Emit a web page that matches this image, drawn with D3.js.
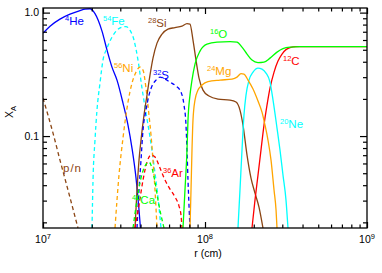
<!DOCTYPE html>
<html>
<head>
<meta charset="utf-8">
<script src="https://cdn.jsdelivr.net/npm/d3@7"></script>
<style>
body{margin:0;background:#fff;}
svg{display:block;font-family:"Liberation Sans",Arial,sans-serif;}
</style>
</head>
<body>
<svg id="chart" width="382" height="273"></svg>
<script>
// mass fractions X_A against radius, [r (cm), X]
const pn = [[1.0e7,0.203],[1.153e7,0.1057],[1.273e7,0.0639],[1.427e7,0.0365],[1.644e7,0.018]];
const he4 = [[1.0e7,0.682],[1.105e7,0.777],[1.273e7,0.886],[1.468e7,0.972],[1.692e7,1.038],[1.816e7,1.067],[1.95e7,1.075],
  [2.094e7,0.981],[2.313e7,0.708],[2.484e7,0.497],[2.666e7,0.362],[2.863e7,0.284],[3.117e7,0.185],[3.347e7,0.1228],
  [3.542e7,0.080],[3.751e7,0.0457],[3.914e7,0.0252],[4.027e7,0.0158]];
const fe54 = [[2.007e7,0.018],[2.036e7,0.044],[2.094e7,0.0928],[2.154e7,0.1623],[2.248e7,0.2686],[2.346e7,0.4125],
  [2.484e7,0.516],[2.666e7,0.633],[2.863e7,0.721],[3.074e7,0.763],[3.253e7,0.770],[3.443e7,0.721],[3.645e7,0.599],
  [3.858e7,0.4125],[4.083e7,0.2447],[4.323e7,0.1535],[4.576e7,0.0981],[4.842e7,0.0582],[5.128e7,0.0315],[5.351e7,0.018]];
const ni56 = [[2.783e7,0.018],[2.863e7,0.0303],[2.945e7,0.0483],[3.03e7,0.0702],[3.117e7,0.0963],[3.207e7,0.1299],
  [3.347e7,0.1885],[3.543e7,0.2686],[3.751e7,0.3298],[3.97e7,0.362],[4.143e7,0.342],[4.323e7,0.2447],[4.511e7,0.1479],
  [4.642e7,0.1019],[4.775e7,0.0639],[4.914e7,0.0365],[5.055e7,0.018]];
const si28 = [[3.698e7,0.018],[3.804e7,0.0365],[3.914e7,0.0639],[4.027e7,0.0928],[4.202e7,0.1479],[4.385e7,0.2148],
  [4.576e7,0.3119],[4.775e7,0.428],[5.055e7,0.566],[5.428e7,0.670],[5.909e7,0.735],[6.528e7,0.756],[7.211e7,0.777],
  [7.742e7,0.815],[8.078e7,0.807],[8.431e7,0.599],[8.799e7,0.4125],[9.183e7,0.2948],[9.721e7,0.2357],[1.0585e8,0.2109],
  [1.2027e8,0.1994],[1.4269e8,0.1957],[1.554e8,0.1885],[1.644e8,0.1623],[1.716e8,0.1228],[1.817e8,0.0702],
  [1.923e8,0.0457],[2.035e8,0.0345],[2.154e8,0.0266],[2.28e8,0.018]];
const s32 = [[3.804e7,0.018],[3.914e7,0.0365],[4.027e7,0.0639],[4.143e7,0.1118],[4.323e7,0.1623],[4.511e7,0.2148],
  [4.707e7,0.2541],[4.983e7,0.284],[5.275e7,0.3003],[5.664e7,0.2893],[6.081e7,0.2736],[6.622e7,0.2541],[7.109e7,0.2272],
  [7.419e7,0.1782],[7.632e7,0.1228],[7.742e7,0.077],[7.853e7,0.044],[7.964e7,0.0276],[8.078e7,0.018]];
const ar36 = [[3.698e7,0.018],[3.914e7,0.0276],[4.143e7,0.044],[4.385e7,0.0616],[4.642e7,0.0702],[4.914e7,0.0676],
  [5.275e7,0.0551],[5.664e7,0.044],[6.081e7,0.0372],[6.528e7,0.0321],[6.909e7,0.0271],[7.109e7,0.0229],[7.211e7,0.018]];
const ca40 = [[3.594e7,0.018],[3.804e7,0.0303],[4.027e7,0.0457],[4.264e7,0.0572],[4.511e7,0.0616],[4.707e7,0.0551],
  [4.914e7,0.0424],[5.128e7,0.0303],[5.351e7,0.0229],[5.585e7,0.018]];
const o16 = [[7.314e7,0.018],[7.523e7,0.0365],[7.742e7,0.077],[7.853e7,0.1348],[8.078e7,0.2148],[8.312e7,0.284],
  [8.674e7,0.3828],[9.314e7,0.488],[1.0287e8,0.556],[1.186e8,0.577],[1.427e8,0.582],[1.576e8,0.577],[1.692e8,0.5255],
  [1.817e8,0.4613],[1.95e8,0.4125],[2.124e8,0.3937],[2.313e8,0.3974],[2.519e8,0.428],[2.783e8,0.4787],[3.03e8,0.511],
  [3.347e8,0.5255],[3.858e8,0.5305],[1.0e9,0.5305]];
const mg24 = [[8.078e7,0.018],[8.197e7,0.0365],[8.312e7,0.077],[8.431e7,0.1348],[8.674e7,0.1957],[9.054e7,0.2357],
  [9.583e7,0.2588],[1.0435e8,0.2762],[1.2377e8,0.284],[1.468e8,0.2893],[1.576e8,0.3003],[1.668e8,0.3207],[1.74e8,0.3177],
  [1.843e8,0.284],[1.979e8,0.2402],[2.124e8,0.192],[2.248e8,0.1564],[2.346e8,0.1228],[2.448e8,0.0928],[2.556e8,0.0639],
  [2.668e8,0.0365],[2.745e8,0.0252],[2.783e8,0.018]];
const ne20 = [[1.598e8,0.018],[1.644e8,0.0365],[1.692e8,0.077],[1.74e8,0.1479],[1.791e8,0.2148],[1.869e8,0.284],
  [1.979e8,0.3298],[2.124e8,0.3553],[2.248e8,0.3487],[2.38e8,0.3237],[2.519e8,0.2736],[2.63e8,0.1957],[2.783e8,0.1161],
  [2.904e8,0.077],[3.03e8,0.0483],[3.162e8,0.0303],[3.253e8,0.018]];
const c12 = [[1.95e8,0.018],[2.035e8,0.0303],[2.124e8,0.0483],[2.216e8,0.077],[2.313e8,0.1228],[2.414e8,0.1782],
  [2.519e8,0.2447],[2.668e8,0.3298],[2.822e8,0.4048],[2.988e8,0.4613],[3.162e8,0.5015],[3.347e8,0.5206],
  [3.645e8,0.5305],[1.0e9,0.5305]];

const xMajor = [1e7, 1e8, 1e9];
const yMajor = [0.1, 1.0];
const yLabels = ['0.1', '1.0'];

// label text: [isotope number, element, r, X at baseline start]
const labels = [
  ['', 'p/n', 1.329e7, 0.0511],
  ['4', 'He', 1.367e7, 0.792],
  ['54', 'Fe', 2.346e7, 0.792],
  ['56', 'Ni', 2.744e7, 0.3298],
  ['28', 'Si', 4.448e7, 0.763],
  ['32', 'S', 4.775e7, 0.2893],
  ['36', 'Ar', 5.506e7, 0.0466],
  ['40', 'Ca', 3.543e7, 0.0281],
  ['16', 'O', 1.074e8, 0.622],
  ['24', 'Mg', 1.0287e8, 0.3119],
  ['12', 'C', 3.03e8, 0.3757],
  ['20', 'Ne', 2.904e8, 0.1161]
];

const series = [
  {d: pn, color: '#8b4513', dash: true},
  {d: he4, color: '#0000ff', dash: false},
  {d: fe54, color: '#00ffff', dash: true},
  {d: ni56, color: '#ffa500', dash: true},
  {d: si28, color: '#8b4513', dash: false},
  {d: s32, color: '#0000ff', dash: true},
  {d: ar36, color: '#ff0000', dash: true},
  {d: ca40, color: '#00ff00', dash: true},
  {d: c12, color: '#ff0000', dash: false},
  {d: ne20, color: '#00ffff', dash: false},
  {d: mg24, color: '#ffa500', dash: false},
  {d: o16, color: '#00ff00', dash: false}
];
const labelColors = ['#8b4513','#0000ff','#00ffff','#ffa500','#8b4513','#0000ff','#ff0000','#00ff00','#00ff00','#ffa500','#ff0000','#00ffff'];

const W = 382, H = 273;
const m = {left: 43, right: 15, top: 8, bottom: 45};
const w = W - m.left - m.right, h = H - m.top - m.bottom;

const svg = d3.select('#chart');
const g = svg.append('g').attr('transform', `translate(${m.left},${m.top})`);

const x = d3.scaleLog().domain([1e7, 1e9]).range([0, w]);
const y = d3.scaleLog().domain([0.018, 1.09]).range([h, 0]);

svg.append('defs').append('clipPath').attr('id', 'clip')
  .append('rect').attr('width', w).attr('height', h);

const line = d3.line()
  .x(p => x(p[0]))
  .y(p => y(p[1]))
  .curve(d3.curveMonotoneX);

const plot = g.append('g').attr('clip-path', 'url(#clip)');
series.forEach(s => {
  plot.append('path')
    .datum(s.d)
    .attr('fill', 'none')
    .attr('stroke', s.color)
    .attr('stroke-width', 1.3)
    .attr('stroke-dasharray', s.dash ? '4,3' : null)
    .attr('d', line);
});

// curve labels
labels.forEach((l, i) => {
  const t = g.append('text')
    .attr('x', x(l[2]))
    .attr('y', y(l[3]))
    .attr('fill', labelColors[i])
    .style('font-size', '11.5px');
  if (l[0]) {
    t.append('tspan').style('font-size', '7.5px').attr('dy', -4.5).text(l[0]);
    t.append('tspan').attr('dy', 4.5).text(l[1]);
  } else {
    t.append('tspan').style('letter-spacing', '1px').text(l[1]);
  }
});

// ticks
const xMinor = [];
[1e7, 1e8].forEach(dec => { for (let k = 2; k <= 9; k++) xMinor.push(k * dec); });
const yMinor = [];
[0.01, 0.1].forEach(dec => { for (let k = 2; k <= 9; k++) { if (k * dec >= 0.018) yMinor.push(k * dec); } });

function addAxis(axis, tr) {
  const a = g.append('g').attr('transform', tr).call(axis);
  a.select('.domain').remove();
  a.selectAll('line').attr('stroke', '#000').attr('stroke-width', 1.2);
  return a;
}
addAxis(d3.axisBottom(x).tickValues(xMajor).tickSize(-6).tickFormat(''), `translate(0,${h})`);
addAxis(d3.axisBottom(x).tickValues(xMinor).tickSize(-3.5).tickFormat(''), `translate(0,${h})`);
addAxis(d3.axisTop(x).tickValues(xMajor).tickSize(-6).tickFormat(''), 'translate(0,0)');
addAxis(d3.axisTop(x).tickValues(xMinor).tickSize(-3.5).tickFormat(''), 'translate(0,0)');
const ya = addAxis(d3.axisLeft(y).tickValues(yMajor).tickSize(-7).tickPadding(4).tickFormat((d, i) => yLabels[i]), 'translate(0,0)');
ya.selectAll('text').style('font-size', '10.5px').style('font-family', '"Liberation Sans",Arial,sans-serif').attr('fill', '#000');
addAxis(d3.axisLeft(y).tickValues(yMinor).tickSize(-4).tickFormat(''), 'translate(0,0)');
addAxis(d3.axisRight(y).tickValues(yMajor).tickSize(-7).tickFormat(''), `translate(${w},0)`);
addAxis(d3.axisRight(y).tickValues(yMinor).tickSize(-4).tickFormat(''), `translate(${w},0)`);

g.append('rect').attr('width', w).attr('height', h)
  .attr('fill', 'none').attr('stroke', '#000').attr('stroke-width', 1.3);

// x tick labels 10^n
xMajor.forEach(v => {
  const t = g.append('text')
    .attr('x', x(v))
    .attr('y', h + 15)
    .attr('text-anchor', 'middle')
    .style('font-size', '10.5px');
  t.append('tspan').text('10');
  t.append('tspan').style('font-size', '7.5px').attr('dy', -4.5).text(Math.round(Math.log10(v)));
});

g.append('text')
  .attr('x', w / 2 + 3)
  .attr('y', h + 29)
  .attr('text-anchor', 'middle')
  .style('font-size', '10.5px')
  .text('r (cm)');

const yl = svg.append('text')
  .attr('transform', `translate(13,${m.top + 104}) rotate(-90)`)
  .attr('text-anchor', 'middle')
  .style('font-size', '10.5px');
yl.append('tspan').text('X');
yl.append('tspan').style('font-size', '7.5px').attr('dy', 3).text('A');
</script>
</body>
</html>
